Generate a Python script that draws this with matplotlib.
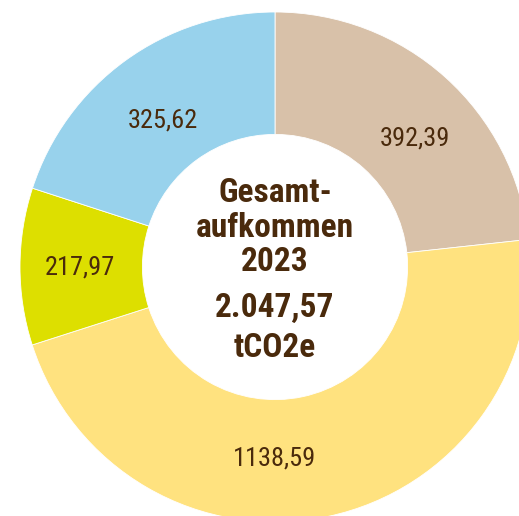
import numpy as np
import matplotlib
matplotlib.use("Agg")
import matplotlib.pyplot as plt

# Values shown on the ring (the drawing is not to scale, so the wedge
# sizes are read from the picture separately, in degrees)
labels = ['392,39', '1138,59', '217,97', '325,62']
values = [392.39, 1138.59, 217.97, 325.62]
wedge_deg = [83.8, 168.4, 35.8, 72.0]
colors = ['#D8C1A9', '#FFE27F', '#DDDF00', '#98D2EC']

center_lines = ['Gesamt-', 'aufkommen', '2023', '2.047,57', 'tCO2e']

brown = '#4A2A0C'
font = ['Roboto Condensed', 'Archivo Narrow', 'DejaVu Sans']

fig = plt.figure(figsize=(5.19, 5.16), dpi=100)
ax = fig.add_axes([0, 0, 1, 1])

wedges, _ = ax.pie(wedge_deg, colors=colors, startangle=90, counterclock=False,
                   radius=1.0, wedgeprops=dict(width=0.48, edgecolor='white', linewidth=0.6))

# label placement (angle in degrees, radius as fraction of outer radius)
label_angle = [42.5, 270.0, 180.0, 127.5]
label_r = [0.745, 0.75, 0.765, 0.725]
for txt, a, r in zip(labels, label_angle, label_r):
    t = np.deg2rad(a)
    ax.text(r * np.cos(t), r * np.sin(t), txt, ha='center', va='center',
            fontsize=19, color=brown, family=font)

# center text
center_y = [0.292, 0.153, 0.020, -0.161, -0.318]
for txt, y in zip(center_lines, center_y):
    ax.text(0, y, txt, ha='center', va='center', fontsize=24,
            fontweight='bold', color=brown, family=font)

# pie is cropped by the image frame: centre at (275, 267) px, radius 255 px
ax.set_xlim(-275 / 255, (519 - 275) / 255)
ax.set_ylim(-(516 - 267) / 255, 267 / 255)
ax.set_aspect('auto')
ax.axis('off')

fig.savefig('out.png', dpi=100)
